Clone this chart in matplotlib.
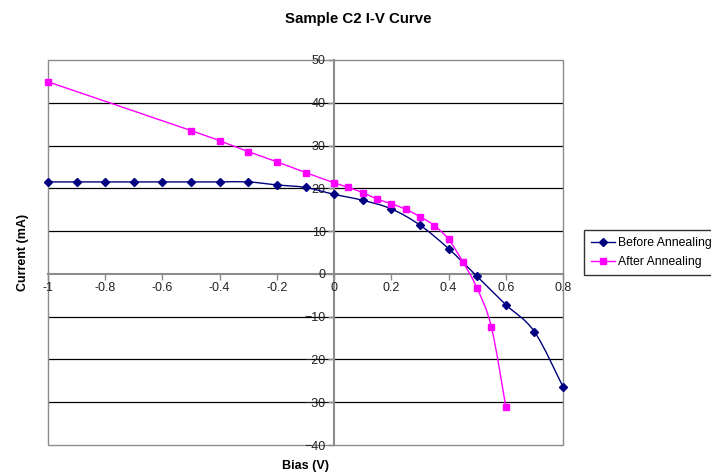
import matplotlib
matplotlib.use("Agg")
import matplotlib.pyplot as plt
from matplotlib.path import Path
from matplotlib.patches import PathPatch, Rectangle
from matplotlib.lines import Line2D
import numpy as np

plt.rcParams['font.family'] = ['Liberation Sans', 'DejaVu Sans']

title = "Sample C2 I-V Curve"
xlabel = "Bias (V)"
ylabel = "Current (mA)"

before_x = [-1.0, -0.9, -0.8, -0.7, -0.6, -0.5, -0.4, -0.3, -0.2, -0.1, 0.0,
            0.1, 0.2, 0.3, 0.4, 0.5, 0.6, 0.7, 0.8]
before_y = [21.5, 21.5, 21.5, 21.5, 21.5, 21.5, 21.5, 21.5, 20.8, 20.2, 18.6,
            17.2, 15.2, 11.4, 5.9, -0.6, -7.2, -13.5, -26.4]

after_x = [-1.0, -0.5, -0.4, -0.3, -0.2, -0.1, 0.0, 0.05, 0.1, 0.15, 0.2,
           0.25, 0.3, 0.35, 0.4, 0.45, 0.5, 0.55, 0.6]
after_y = [44.9, 33.5, 31.1, 28.6, 26.2, 23.7, 21.3, 20.2, 19.0, 17.5, 16.4,
           15.1, 13.4, 11.3, 8.1, 2.8, -3.4, -12.5, -31.0]

x_ticks = [-1, -0.8, -0.6, -0.4, -0.2, 0, 0.2, 0.4, 0.6, 0.8]
x_tick_labels = ["-1", "-0.8", "-0.6", "-0.4", "-0.2", "0", "0.2", "0.4", "0.6", "0.8"]
y_ticks = [-40, -30, -20, -10, 0, 10, 20, 30, 40, 50]

series_names = ["Before Annealing", "After Annealing"]
colors = ["#000080", "#FF00FF"]


def smooth_path(xs, ys):
    pts = np.column_stack([xs, ys]).astype(float)
    n = len(pts)
    verts = [pts[0]]
    codes = [Path.MOVETO]
    for i in range(n - 1):
        p0 = pts[i - 1] if i > 0 else pts[i]
        p1 = pts[i]
        p2 = pts[i + 1]
        p3 = pts[i + 2] if i + 2 < n else pts[i + 1]
        c1 = p1 + (p2 - p0) / 6.0
        c2 = p2 - (p3 - p1) / 6.0
        verts += [c1, c2, p2]
        codes += [Path.CURVE4] * 3
    return Path(verts, codes)


fig = plt.figure(figsize=(7.11, 4.75), dpi=100)
ax = fig.add_axes([48 / 711, 30 / 475, 515 / 711, 385 / 475])

ax.set_xlim(-1, 0.8)
ax.set_ylim(-40, 50)

# gridlines
for yv in y_ticks:
    if yv in (-40, 0, 50):
        continue
    ax.axhline(yv, color="black", lw=0.9, zorder=1)

# border of plot area
ax.add_patch(Rectangle((0, 0), 1, 1, transform=ax.transAxes, fill=False,
                       edgecolor="#8c8c8c", lw=1.0, zorder=1, clip_on=False))

for s in ["top", "right"]:
    ax.spines[s].set_visible(False)
ax.spines["left"].set_position(("data", 0))
ax.spines["bottom"].set_position(("data", 0))
for s in ["left", "bottom"]:
    ax.spines[s].set_color("#8c8c8c")
    ax.spines[s].set_linewidth(1.5)
    ax.spines[s].set_zorder(1.5)

ax.set_xticks(x_ticks)
ax.set_xticklabels(x_tick_labels)
ax.set_yticks(y_ticks)
ax.tick_params(axis="both", direction="out", length=4, width=1,
               color="#8c8c8c", labelsize=9, labelcolor="#222222", pad=2)

data = [(before_x, before_y), (after_x, after_y)]
markers = ["D", "s"]
msizes = [4, 5]
for (xs, ys), c, m, ms in zip(data, colors, markers, msizes):
    ax.add_patch(PathPatch(smooth_path(xs, ys), fill=False, edgecolor=c,
                           lw=1.0, zorder=3))
    ax.plot(xs, ys, linestyle="none", marker=m, markersize=ms, color=c,
            zorder=4, clip_on=False)

ax.set_xlabel(xlabel, fontsize=9, fontweight="bold")
ax.set_ylabel(ylabel, fontsize=9, fontweight="bold")
ax.xaxis.set_label_coords(0.5, -0.038)
ax.yaxis.set_label_coords(-0.036, 0.5)

fig.text(358 / 711, 1 - 18.5 / 475, title, ha="center", va="center",
         fontsize=10.8, fontweight="bold")

handles = [Line2D([], [], color=c, marker=m, markersize=ms, lw=1.0)
           for c, m, ms in zip(colors, markers, msizes)]
leg = fig.legend(handles, series_names, loc="upper left",
                 bbox_to_anchor=(584 / 711, 1 - 230 / 475), fontsize=8.8,
                 frameon=True, fancybox=False, edgecolor="black",
                 handlelength=1.9, handletextpad=0.3, borderpad=0.6,
                 labelspacing=0.55, borderaxespad=0)
leg.get_frame().set_linewidth(1.0)

fig.savefig("out.png", dpi=100)
